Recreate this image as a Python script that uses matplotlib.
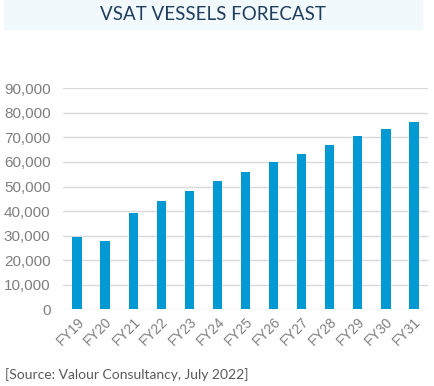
import matplotlib
matplotlib.use("Agg")
import matplotlib.pyplot as plt
from matplotlib.patches import Rectangle
from matplotlib.ticker import FuncFormatter

years = ["FY19", "FY20", "FY21", "FY22", "FY23", "FY24", "FY25",
         "FY26", "FY27", "FY28", "FY29", "FY30", "FY31"]
vessels = [29300, 27900, 39300, 44100, 48000, 52200, 55900,
           59800, 63200, 67000, 70600, 73300, 76300]
yticks = list(range(0, 90001, 10000))

fig = plt.figure(figsize=(4.34, 3.86), dpi=100)

# title band
fig.patches.append(Rectangle((4 / 434, 1 - 29 / 386), 418 / 434, 29 / 386,
                             transform=fig.transFigure, color="#f2f9fd", zorder=0))
fig.text(213 / 434, 1 - 14 / 386, "VSAT VESSELS FORECAST", ha="center", va="center",
         fontsize=13.5, color="#1f3d5c", family="Lato")

ax = fig.add_axes([63 / 434, 1 - 309.3 / 386, 365 / 434, (309.3 - 88.3) / 386])
x = range(len(years))
ax.bar(x, vessels, width=0.33, color="#0099d4", zorder=3)

ax.set_xlim(-0.5, len(years) - 0.5)
ax.set_ylim(0, 90000)
ax.set_yticks(yticks)
ax.yaxis.set_major_formatter(FuncFormatter(lambda v, p: f"{int(v):,}"))
ax.set_xticks(list(x))
ax.set_xticklabels(years, rotation=45, ha="right", rotation_mode="anchor")
ax.grid(axis="y", color="#d9d9d9", linewidth=1, zorder=0)
for s in ["top", "right", "left", "bottom"]:
    ax.spines[s].set_visible(False)
ax.tick_params(axis="both", length=0, colors="#7f7f7f")
ax.tick_params(axis="y", labelsize=11, pad=9)
ax.tick_params(axis="x", labelsize=10, pad=4)
for lab in ax.get_yticklabels() + ax.get_xticklabels():
    lab.set_family("Liberation Sans")

fig.text(5 / 434, 1 - 375 / 386, "[Source: Valour Consultancy, July 2022]",
         ha="left", va="center", fontsize=10, color="#595959", family="Lato")

fig.savefig("out.png", dpi=100)
